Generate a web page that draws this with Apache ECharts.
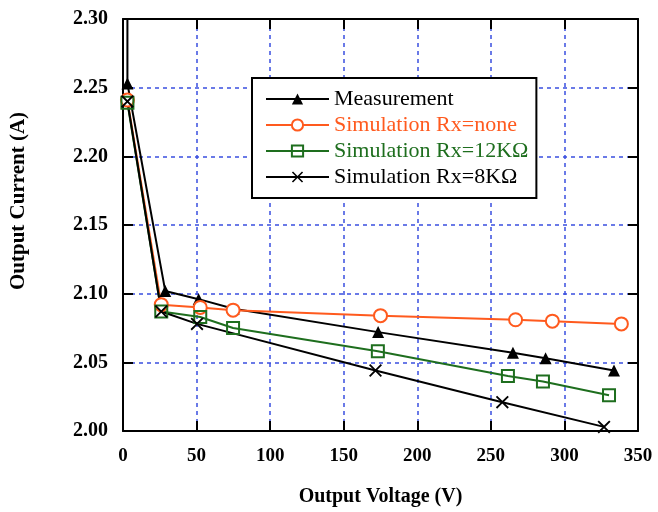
<!DOCTYPE html>
<html>
<head>
<meta charset="utf-8">
<script src="https://cdn.jsdelivr.net/npm/echarts@6/dist/echarts.min.js"></script>
<style>
  html, body { margin: 0; padding: 0; background: #fff; }
  #main { width: 658px; height: 512px; }
</style>
</head>
<body>
<div id="main"></div>
<script>
// 数据
const measX = [3, 3, 28.7, 51.4, 75.2, 173.4, 265, 287.2, 333.7];
const measY = [2.40, 2.253, 2.102, 2.096, 2.089, 2.072, 2.057, 2.053, 2.044];
const noneX = [3, 26, 52.5, 74.8, 175, 266.8, 291.8, 338.7];
const noneY = [2.241, 2.092, 2.090, 2.088, 2.084, 2.081, 2.080, 2.078];
const r12X = [3, 26, 52.5, 74.8, 173.2, 261.6, 285.4, 330.3];
const r12Y = [2.239, 2.087, 2.083, 2.075, 2.058, 2.040, 2.036, 2.026];
const r8X = [3, 26, 50.3, 171.6, 257.8, 326.9];
const r8Y = [2.240, 2.087, 2.078, 2.044, 2.021, 2.003];
const seriesNames = ['Measurement', 'Simulation Rx=none', 'Simulation Rx=12KΩ', 'Simulation Rx=8KΩ'];

const pairs = (xs, ys) => xs.map((x, i) => [x, ys[i]]);
const crossPath = 'path://M0,1L1,0L5,4L9,0L10,1L6,5L10,9L9,10L5,6L1,10L0,9L4,5Z';
const serif = 'Liberation Serif';
const gridLine = { show: true, lineStyle: { color: '#3a4fe0', type: [4, 4], width: 1.5 } };

var myChart = echarts.init(document.getElementById('main'));
var option = {
  animation: false,
  grid: { left: 122, right: 20, top: 19, bottom: 80 },
  legend: {
    orient: 'vertical',
    left: 252, top: 78,
    padding: [10, 8, 10, 13],
    backgroundColor: '#fff',
    borderColor: '#000', borderWidth: 2,
    itemWidth: 63, itemHeight: 14, itemGap: 4,
    textStyle: { fontFamily: serif, fontSize: 22, lineHeight: 22 },
    data: [
      { name: seriesNames[0], textStyle: { color: '#000' } },
      { name: seriesNames[1], textStyle: { color: '#ff5a1e' } },
      { name: seriesNames[2], textStyle: { color: '#1e6e1e' } },
      { name: seriesNames[3], textStyle: { color: '#000' } }
    ]
  },
  xAxis: [{
    type: 'value', min: 0, max: 350, interval: 50,
    name: 'Output Voltage (V)', nameLocation: 'middle', nameGap: 56,
    nameTextStyle: { fontFamily: serif, fontSize: 20, fontWeight: 'bold', color: '#000' },
    axisLine: { show: true, onZero: false, lineStyle: { color: '#000', width: 2 } },
    axisTick: { show: true, inside: true, length: 10, lineStyle: { color: '#000', width: 2 } },
    axisLabel: { margin: 16, fontFamily: serif, fontSize: 19, fontWeight: 'bold', color: '#000' },
    splitLine: gridLine
  }, {
    type: 'value', min: 0, max: 350, interval: 50, position: 'top',
    axisLine: { show: true, onZero: false, lineStyle: { color: '#000', width: 2 } },
    axisTick: { show: true, inside: true, length: 10, lineStyle: { color: '#000', width: 2 } },
    axisLabel: { show: false }, splitLine: { show: false }
  }],
  yAxis: [{
    type: 'value', min: 2.0, max: 2.3, interval: 0.05,
    name: 'Output Current (A)', nameLocation: 'middle', nameGap: 94,
    nameTextStyle: { fontFamily: serif, fontSize: 21, fontWeight: 'bold', color: '#000', padding: [0, 0, 0, 48] },
    axisLine: { show: true, onZero: false, lineStyle: { color: '#000', width: 2 } },
    axisTick: { show: true, inside: true, length: 10, lineStyle: { color: '#000', width: 2 } },
    axisLabel: { margin: 15, fontFamily: serif, fontSize: 20, fontWeight: 'bold', color: '#000',
      formatter: v => v.toFixed(2) },
    splitLine: gridLine
  }, {
    type: 'value', min: 2.0, max: 2.3, interval: 0.05, position: 'right',
    axisLine: { show: true, onZero: false, lineStyle: { color: '#000', width: 2 } },
    axisTick: { show: true, inside: true, length: 10, lineStyle: { color: '#000', width: 2 } },
    axisLabel: { show: false }, splitLine: { show: false }
  }],
  series: [{
    name: seriesNames[0], type: 'line', clip: true,
    data: pairs(measX, measY),
    symbol: 'triangle', symbolSize: 12,
    itemStyle: { color: '#000' },
    lineStyle: { color: '#000', width: 2 }
  }, {
    name: seriesNames[1], type: 'line', clip: true,
    data: pairs(noneX, noneY),
    symbol: 'circle', symbolSize: 13,
    itemStyle: { color: '#fff', borderColor: '#ff5a1e', borderWidth: 2 },
    lineStyle: { color: '#ff5a1e', width: 2 }
  }, {
    name: seriesNames[2], type: 'line', clip: true,
    data: pairs(r12X, r12Y),
    symbol: 'rect', symbolSize: 12,
    itemStyle: { color: 'rgba(255,255,255,0)', borderColor: '#1e6e1e', borderWidth: 2 },
    lineStyle: { color: '#1e6e1e', width: 2 }
  }, {
    name: seriesNames[3], type: 'line', clip: true,
    data: pairs(r8X, r8Y),
    symbol: crossPath, symbolSize: 13,
    itemStyle: { color: '#000' },
    lineStyle: { color: '#000', width: 2 }
  }]
};
myChart.setOption(option);
</script>
</body>
</html>
